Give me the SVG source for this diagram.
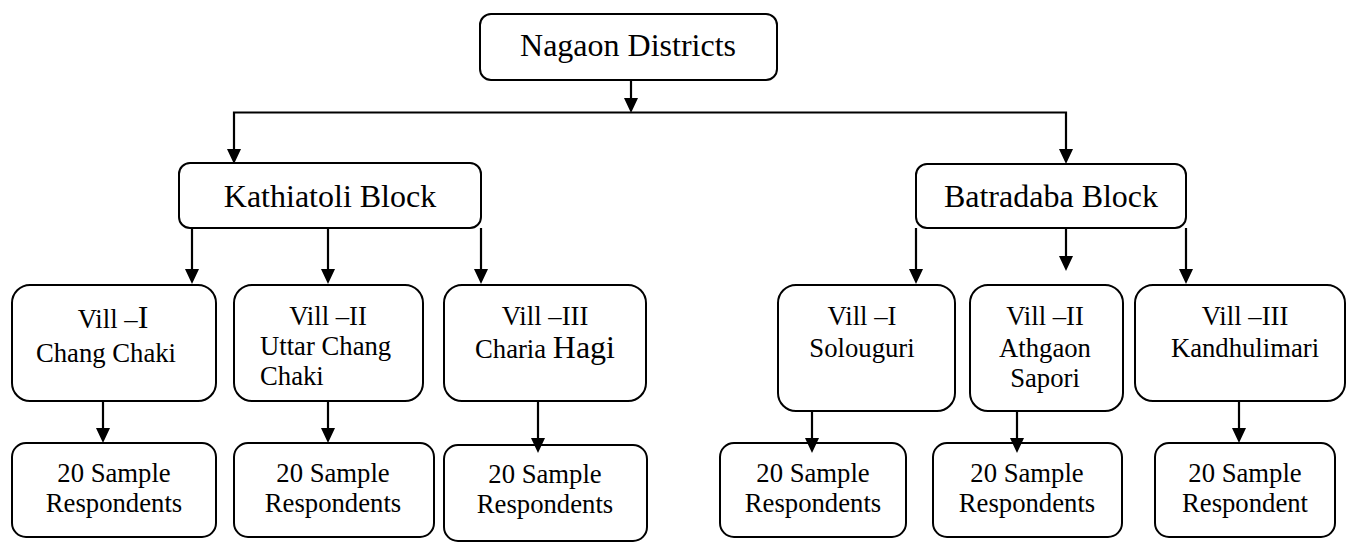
<svg xmlns="http://www.w3.org/2000/svg" width="1358" height="544" viewBox="0 0 1358 544">
<style>
.box{fill:#fff;stroke:#000;stroke-width:2}
.t{font-family:"Liberation Serif","Times New Roman",serif;fill:#000;font-size:26.7px}
.big{font-size:32px}
.m{text-anchor:middle}
.ln{stroke:#000;stroke-width:2.2;fill:none}
.ah{fill:#000}
</style>
<g id="nagaon">
<rect class="box" x="480" y="14" width="297" height="66" rx="11"/>
<text class="t big m" x="628" y="56">Nagaon Districts</text>
</g>
<g id="kathiatoli">
<rect class="box" x="179" y="163" width="302" height="65" rx="11"/>
<text class="t big m" x="330" y="207">Kathiatoli Block</text>
</g>
<g id="batradaba">
<rect class="box" x="916" y="164" width="270" height="64" rx="11"/>
<text class="t big m" x="1051" y="207">Batradaba Block</text>
</g>
<g id="vill1k">
<rect class="box" x="12" y="285" width="204" height="116" rx="18"/>
<text class="t m" x="113" y="328">Vill –<tspan class="big">I</tspan></text>
<text class="t m" x="106" y="362">Chang Chaki</text>
</g>
<g id="vill2k">
<rect class="box" x="234" y="285" width="189" height="116" rx="18"/>
<text class="t m" x="328" y="325">Vill –II</text>
<text class="t" x="260" y="355">Uttar Chang</text>
<text class="t" x="260" y="385">Chaki</text>
</g>
<g id="vill3k">
<rect class="box" x="444" y="285" width="202" height="116" rx="18"/>
<text class="t m" x="545" y="325">Vill –III</text>
<text class="t m" x="545" y="358">Charia <tspan class="big">Hagi</tspan></text>
</g>
<g id="vill1b">
<rect class="box" x="778" y="285" width="177" height="126" rx="18"/>
<text class="t m" x="862" y="325">Vill –I</text>
<text class="t m" x="862" y="357">Solouguri</text>
</g>
<g id="vill2b">
<rect class="box" x="970" y="285" width="153" height="126" rx="18"/>
<text class="t m" x="1045" y="325">Vill –II</text>
<text class="t m" x="1045" y="357">Athgaon</text>
<text class="t m" x="1045" y="387">Sapori</text>
</g>
<g id="vill3b">
<rect class="box" x="1135" y="285" width="210" height="116" rx="18"/>
<text class="t m" x="1245" y="325">Vill –III</text>
<text class="t m" x="1245" y="357">Kandhulimari</text>
</g>
<g id="s1">
<rect class="box" x="12" y="443" width="204" height="94" rx="14"/>
<text class="t m" x="114" y="482">20 Sample</text>
<text class="t m" x="114" y="512">Respondents</text>
</g>
<g id="s2">
<rect class="box" x="234" y="443" width="200" height="94" rx="14"/>
<text class="t m" x="333" y="482">20 Sample</text>
<text class="t m" x="333" y="512">Respondents</text>
</g>
<g id="s3">
<rect class="box" x="444" y="445" width="203" height="96" rx="14"/>
<text class="t m" x="545" y="483">20 Sample</text>
<text class="t m" x="545" y="513">Respondents</text>
</g>
<g id="s4">
<rect class="box" x="720" y="443" width="186" height="94" rx="14"/>
<text class="t m" x="813" y="482">20 Sample</text>
<text class="t m" x="813" y="512">Respondents</text>
</g>
<g id="s5">
<rect class="box" x="933" y="443" width="189" height="94" rx="14"/>
<text class="t m" x="1027" y="482">20 Sample</text>
<text class="t m" x="1027" y="512">Respondents</text>
</g>
<g id="s6">
<rect class="box" x="1155" y="443" width="180" height="94" rx="14"/>
<text class="t m" x="1245" y="482">20 Sample</text>
<text class="t m" x="1245" y="512">Respondent</text>
</g>
<g id="connectors">
<path class="ln" d="M631,80 L631,105"/>
<path class="ah" d="M624,98 L638,98 L631,113 Z"/>
<path class="ln" d="M234,155 L234,112.5 L1066,112.5 L1066,156"/>
<path class="ah" d="M227,149 L241,149 L234,164 Z"/>
<path class="ah" d="M1059,149 L1073,149 L1066,164 Z"/>
<path class="ln" d="M192,228 L192,275"/>
<path class="ah" d="M185,269 L199,269 L192,284 Z"/>
<path class="ln" d="M328,228 L328,275"/>
<path class="ah" d="M321,269 L335,269 L328,284 Z"/>
<path class="ln" d="M481,228 L481,275"/>
<path class="ah" d="M474,269 L488,269 L481,284 Z"/>
<path class="ln" d="M916,228 L916,275"/>
<path class="ah" d="M909,269 L923,269 L916,284 Z"/>
<path class="ln" d="M1066,228 L1066,262"/>
<path class="ah" d="M1059,256 L1073,256 L1066,271 Z"/>
<path class="ln" d="M1186,228 L1186,275"/>
<path class="ah" d="M1179,269 L1193,269 L1186,284 Z"/>
<path class="ln" d="M103,401 L103,435"/>
<path class="ah" d="M96,428 L110,428 L103,443 Z"/>
<path class="ln" d="M328,401 L328,435"/>
<path class="ah" d="M321,428 L335,428 L328,443 Z"/>
<path class="ln" d="M538,401 L538,445"/>
<path class="ah" d="M531,438 L545,438 L538,453 Z"/>
<path class="ln" d="M812,411 L812,445"/>
<path class="ah" d="M805,438 L819,438 L812,453 Z"/>
<path class="ln" d="M1017,411 L1017,445"/>
<path class="ah" d="M1010,438 L1024,438 L1017,453 Z"/>
<path class="ln" d="M1239,401 L1239,435"/>
<path class="ah" d="M1232,428 L1246,428 L1239,443 Z"/>
</g>
</svg>
